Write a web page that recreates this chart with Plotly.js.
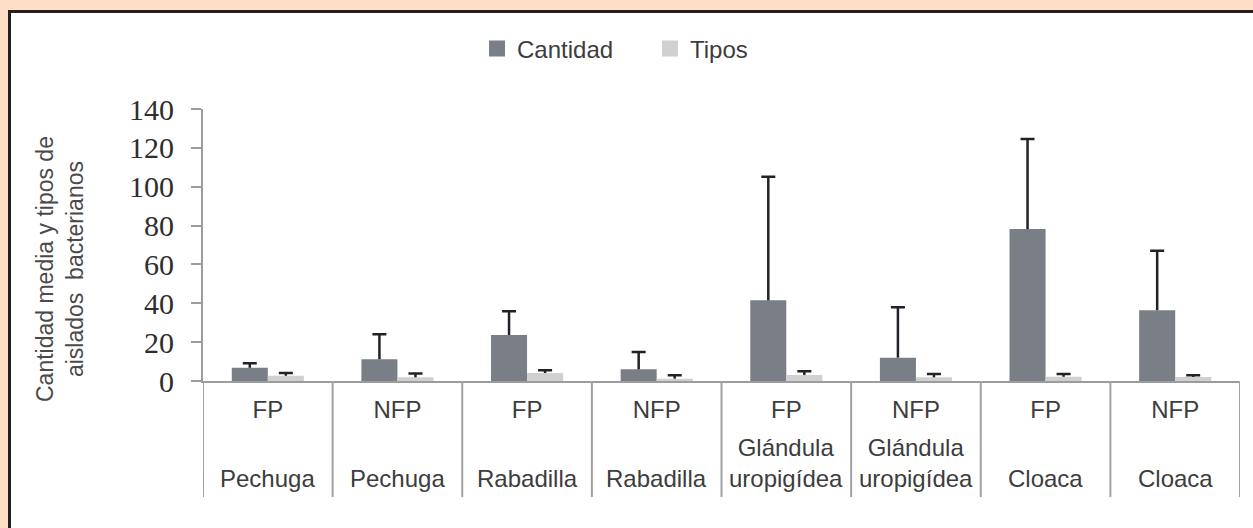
<!DOCTYPE html>
<html>
<head>
<meta charset="utf-8">
<script src="https://cdn.plot.ly/plotly-3.0.1.min.js"></script>
<style>
  html, body { margin: 0; padding: 0; width: 1253px; height: 528px; overflow: hidden; background: #fddfc6; }
  #frame { position: absolute; left: 8px; top: 10px; width: 1300px; height: 600px; background: #ffffff; border: 3px solid #231f20; box-sizing: border-box; }
  #chart { position: absolute; left: 0; top: 0; width: 1253px; height: 528px; }
</style>
</head>
<body>
<div id="frame"></div>
<div id="chart"></div>
<script>
// ---- data ----
const categories = ['FP Pechuga', 'NFP Pechuga', 'FP Rabadilla', 'NFP Rabadilla',
                    'FP Glándula', 'NFP Glándula', 'FP Cloaca', 'NFP Cloaca'];
const groups = ['FP', 'NFP', 'FP', 'NFP', 'FP', 'NFP', 'FP', 'NFP'];
const sites = ['Pechuga', 'Pechuga', 'Rabadilla', 'Rabadilla',
               'Glándula<br>uropigídea', 'Glándula<br>uropigídea', 'Cloaca', 'Cloaca'];
const seriesNames = ['Cantidad', 'Tipos'];
const cantidad = [6.8, 11.2, 23.7, 6.0, 41.5, 12.0, 78.2, 36.4];
const cantidadErr = [2.3, 12.8, 12.2, 8.9, 63.6, 25.9, 46.4, 30.7];
const tipos = [2.7, 1.9, 4.1, 1.2, 3.1, 1.9, 2.2, 2.1];
const tiposErr = [1.4, 1.9, 1.4, 1.7, 1.9, 1.7, 1.4, 0.8];
const yTicks = [0, 20, 40, 60, 80, 100, 120, 140];

// ---- styles ----
const COL_CANT = '#7a7e86';
const COL_TIPOS = '#d0d0d0';
const ERR_COL = '#1f2226';
const AXIS_COL = '#9c9c9c';
const TXT_COL = '#3d3d3d';
const SANS = '"Liberation Sans", Arial, Helvetica, sans-serif';
const SERIF = '"Liberation Serif", "Times New Roman", serif';

const zeros = categories.map(() => 0);

function mainBar(name, vals, errs, color, group) {
  return {
    type: 'bar', name: name, x: categories, y: vals,
    offsetgroup: group, legendgroup: name, showlegend: false,
    marker: { color: color, line: { width: 0 } },
    error_y: { type: 'data', symmetric: false, array: errs, arrayminus: zeros,
               color: ERR_COL, thickness: 2.5, width: 0 },
    hoverinfo: 'x+y+name'
  };
}
// transparent helper bars spanning the error range: their zero-length error bar
// draws only the cap at the top of each whisker
function capBar(vals, errs, group) {
  return {
    type: 'bar', x: categories, y: errs, base: vals,
    offsetgroup: group, showlegend: false, hoverinfo: 'skip',
    marker: { color: 'rgba(0,0,0,0)', line: { width: 0 } },
    error_y: { type: 'data', symmetric: false, array: zeros, arrayminus: zeros,
               color: ERR_COL, thickness: 2.5, width: 7 }
  };
}
// legend entries (square swatches as in the reference); the single point has no value
function legendEntry(name, color) {
  return {
    type: 'scatter', mode: 'markers', name: name, legendgroup: name,
    x: [categories[0]], y: [null], hoverinfo: 'skip', cliponaxis: true,
    marker: { symbol: 'square', size: 16, color: color, line: { width: 0 } }
  };
}

const data = [
  mainBar(seriesNames[0], cantidad, cantidadErr, COL_CANT, 'a'),
  mainBar(seriesNames[1], tipos, tiposErr, COL_TIPOS, 'b'),
  capBar(cantidad, cantidadErr, 'a'),
  capBar(tipos, tiposErr, 'b'),
  legendEntry(seriesNames[0], COL_CANT),
  legendEntry(seriesNames[1], COL_TIPOS)
];

const W = 1253, H = 528;
const M = { l: 203, r: 13, t: 109, b: 147 };
const plotH = H - M.t - M.b;

const shapes = [];
for (let i = 0; i <= categories.length; i++) {
  shapes.push({
    type: 'line', xref: 'x', yref: 'paper',
    x0: i - 0.5, x1: i - 0.5, y0: 0, y1: -116 / plotH,
    line: { color: '#a2a2a2', width: 2 }
  });
}

const annotations = categories.map((c, i) => ({
  xref: 'x', yref: 'paper', x: i, y: -113 / plotH,
  xanchor: 'center', yanchor: 'bottom', align: 'center',
  text: sites[i], showarrow: false,
  font: { family: SANS, size: 24, color: TXT_COL }
}));
annotations.push({
  xref: 'paper', yref: 'paper', x: -143 / (W - M.l - M.r), y: 112 / plotH,
  xanchor: 'center', yanchor: 'middle', textangle: -90, showarrow: false,
  text: 'Cantidad media y tipos de<br>aislados&nbsp; bacterianos',
  font: { family: SANS, size: 23, color: '#4a4a4a' }
});

const layout = {
  width: W, height: H, autosize: false,
  margin: M,
  paper_bgcolor: 'rgba(0,0,0,0)',
  plot_bgcolor: 'rgba(0,0,0,0)',
  barmode: 'group', bargap: 0.444, bargroupgap: 0,
  showlegend: true,
  legend: {
    orientation: 'h', xref: 'container', yref: 'container',
    x: 477 / W, xanchor: 'left', y: 1 - 49 / H, yanchor: 'middle',
    entrywidth: 128, entrywidthmode: 'pixels', itemsizing: 'trace',
    font: { family: SANS, size: 24, color: TXT_COL },
    bgcolor: 'rgba(0,0,0,0)'
  },
  xaxis: {
    type: 'category', categoryorder: 'array', categoryarray: categories,
    range: [-0.5, categories.length - 0.5],
    tickmode: 'array', tickvals: categories, ticktext: groups,
    ticks: '', showline: true, linecolor: AXIS_COL, linewidth: 2,
    showgrid: false, zeroline: false, ticklabelstandoff: 6,
    tickfont: { family: SANS, size: 24, color: TXT_COL }
  },
  yaxis: {
    range: [0, 140], tickmode: 'array', tickvals: yTicks,
    ticks: 'outside', ticklen: 10, tickwidth: 2, tickcolor: AXIS_COL,
    showline: true, linecolor: AXIS_COL, linewidth: 2,
    showgrid: false, zeroline: false, ticklabelstandoff: 11,
    tickfont: { family: SERIF, size: 30, color: '#2e2e2e' }
  },
  shapes: shapes,
  annotations: annotations
};

Plotly.newPlot('chart', data, layout, { displayModeBar: false, staticPlot: true });
</script>
</body>
</html>
